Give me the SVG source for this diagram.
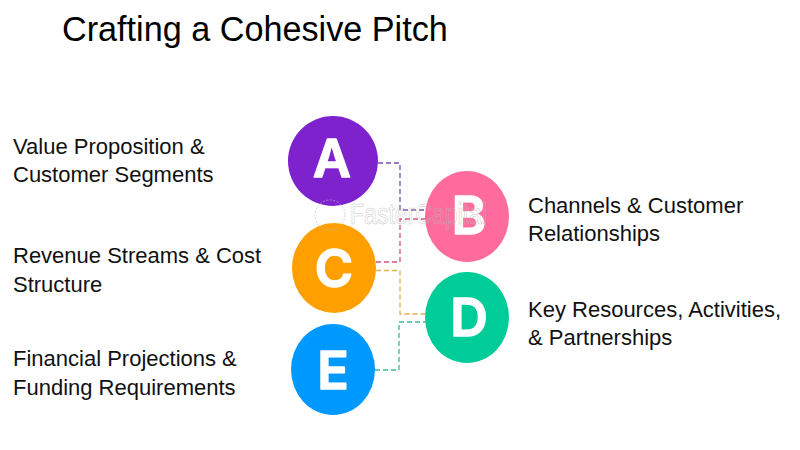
<svg xmlns="http://www.w3.org/2000/svg" width="800" height="450" viewBox="0 0 800 450">
<style>
.t{font-family:"Liberation Sans",Arial,sans-serif;fill:#111;font-size:22px}
.h{font-family:"Liberation Sans",Arial,sans-serif;fill:#000;font-size:34.200px}
.l{font-family:"Inter","Liberation Sans",sans-serif;font-weight:600;font-size:52px;fill:#fff;stroke:#fff;stroke-width:1.500;stroke-linejoin:round;text-anchor:middle}
.c{fill:none;stroke-width:1.300;stroke-dasharray:5 3}
.w{font-family:"Liberation Sans",Arial,sans-serif;font-size:30px;fill:none;stroke:#b8b8b8;stroke-width:.6;opacity:.75}
</style>
<rect width="800" height="450" fill="#fff"/>
<text class="h" x="62" y="41">Crafting a Cohesive Pitch</text>
<g id="connectors">
<path class="c" stroke="#7a4fb5" d="M378 163H400V210H426"/>
<path class="c" stroke="#d0567f" d="M376 262H400V219H426"/>
<path class="c" stroke="#e0ae4e" d="M376 270.500H400V314H426"/>
<path class="c" stroke="#3dbb94" d="M375 370H399V322H426"/>
</g>
<g id="node-a"><ellipse cx="333" cy="161" rx="45" ry="45" fill="#7e22ce"/><text class="l" x="332" y="177">A</text></g>
<g id="node-b"><ellipse cx="467" cy="216.500" rx="42" ry="45.500" fill="#ff6b9d"/><text class="l" x="469" y="234">B</text></g>
<g id="node-c"><ellipse cx="334" cy="268" rx="42" ry="45" fill="#ff9f00"/><text class="l" x="334" y="287">C</text></g>
<g id="node-d"><ellipse cx="467" cy="317.500" rx="42" ry="45.500" fill="#00cc99"/><text class="l" x="469" y="336">D</text></g>
<g id="node-e"><ellipse cx="333" cy="369.500" rx="42" ry="45.500" fill="#0099ff"/><text class="l" x="333" y="389">E</text></g>
<g id="labels">
<text class="t" x="13" y="154">Value Proposition &amp;</text>
<text class="t" x="13" y="182">Customer Segments</text>
<text class="t" x="528" y="213">Channels &amp; Customer</text>
<text class="t" x="528" y="241">Relationships</text>
<text class="t" x="13" y="263">Revenue Streams &amp; Cost</text>
<text class="t" x="13" y="292">Structure</text>
<text class="t" x="528" y="317">Key Resources, Activities,</text>
<text class="t" x="528" y="345">&amp; Partnerships</text>
<text class="t" x="13" y="366">Financial Projections &amp;</text>
<text class="t" x="13" y="395">Funding Requirements</text>
</g>
<g id="watermark">
<circle cx="330" cy="215" r="15" fill="none" stroke="#bbb" stroke-width=".8" stroke-dasharray="2 1.500" opacity=".8"/>
<text class="w" x="350" y="224" textLength="137" lengthAdjust="spacingAndGlyphs">FasterCapital</text>
</g>
</svg>
